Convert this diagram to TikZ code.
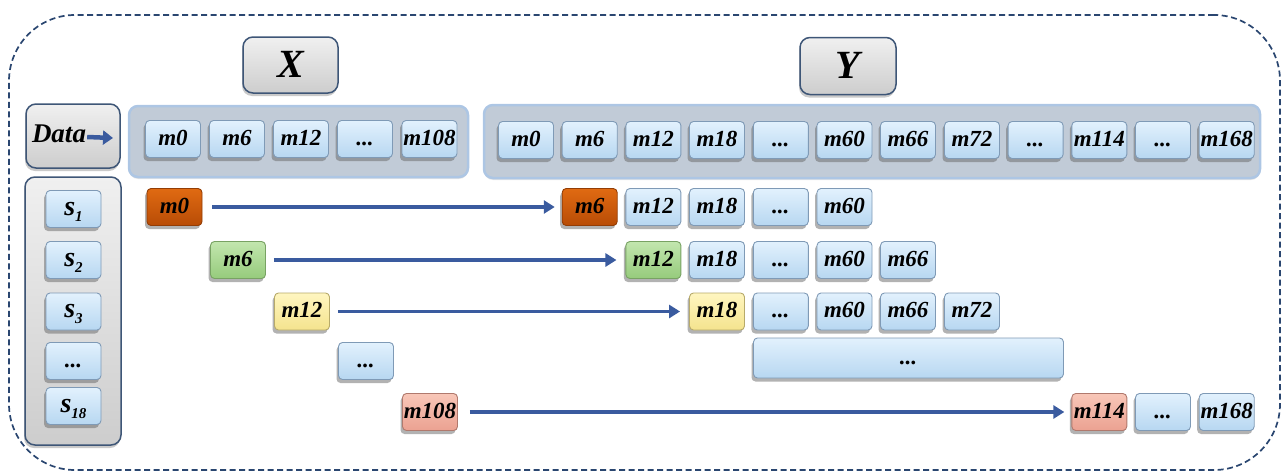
\documentclass[tikz,border=0pt]{standalone}
\usepackage{fontspec}
\newfontfamily\lblfont{Liberation Serif}
\usetikzlibrary{shadows,arrows.meta,shadings}

\definecolor{frameline}{HTML}{2A4670}
\definecolor{boxline}{HTML}{3E5677}
\definecolor{boxtop}{HTML}{F0F0F0}
\definecolor{boxbot}{HTML}{CDCDCD}
\definecolor{contline}{HTML}{ADC6E4}
\definecolor{contfill}{HTML}{C1CBD7}
\definecolor{cellline}{HTML}{7F9AB6}
\definecolor{celltop}{HTML}{E2F1FD}
\definecolor{cellbot}{HTML}{B7D7F1}
\definecolor{orgtop}{HTML}{E06A12}
\definecolor{orgbot}{HTML}{B84C06}
\definecolor{grntop}{HTML}{C2E6AE}
\definecolor{grnbot}{HTML}{96CB7C}
\definecolor{ylwtop}{HTML}{FFF6C0}
\definecolor{ylwbot}{HTML}{F4E38E}
\definecolor{pnktop}{HTML}{F8C6B8}
\definecolor{pnkbot}{HTML}{EBA291}
\definecolor{flowblue}{HTML}{3A5B9F}

\newcommand\cellfont{\fontsize{23}{23}\selectfont\lblfont\bfseries\itshape}
\newcommand\ssub[1]{\raisebox{-6pt}{\fontsize{15}{15}\selectfont #1}}

\tikzset{
  frame/.style={draw=frameline, line width=1.7pt, dash pattern=on 6pt off 3.5pt,
    rounded corners=66pt, minimum width=1271pt, minimum height=455pt, inner sep=0pt},
  graybox/.style={draw=boxline, line width=1.5pt, rounded corners=10pt,
    top color=boxtop, bottom color=boxbot, inner sep=0pt,
    drop shadow={shadow xshift=-1pt, shadow yshift=-3pt, opacity=0.35, fill=black!60}},
  container/.style={draw=contline, line width=2.5pt, fill=contfill, rounded corners=9pt,
    inner sep=0pt,
    drop shadow={shadow xshift=0pt, shadow yshift=-2pt, opacity=0.2, fill=black!50}},
  cell/.style={draw=cellline, line width=0.9pt, rounded corners=4pt,
    top color=celltop, bottom color=cellbot,
    minimum width=55pt, minimum height=37pt, inner sep=0pt,
    text height=15pt, text depth=3pt, font=\cellfont,
    drop shadow={shadow xshift=-2pt, shadow yshift=-3.5pt, opacity=0.5, fill=black!60}},
  orangecell/.style={cell, top color=orgtop, bottom color=orgbot, draw=orgbot!80!black},
  greencell/.style={cell, top color=grntop, bottom color=grnbot, draw=grnbot!80!black},
  yellowcell/.style={cell, top color=ylwtop, bottom color=ylwbot, draw=ylwbot!75!black},
  pinkcell/.style={cell, top color=pnktop, bottom color=pnkbot, draw=pnkbot!75!black},
  flow/.style={draw=flowblue, line width=3.8pt, -{Triangle[length=11pt,width=13pt]}},
  title/.style={font=\fontsize{40}{40}\selectfont\lblfont\bfseries\itshape},
  stext/.style={font=\fontsize{28}{28}\selectfont\lblfont\bfseries\itshape}
}

\begin{document}
\begin{tikzpicture}[x=1pt,y=-1pt]
\useasboundingbox (0,0) rectangle (1282,474);

% outer dashed frame
\node[frame] (frame) at (644.5,242.5) {};

% titles
\node[graybox, minimum width=95pt, minimum height=56pt] (xbox) at (290.5,65) {};
\node[title] (xlbl) at (290.5,64) {X};
\node[graybox, minimum width=96pt, minimum height=57pt] (ybox) at (848,66) {};
\node[title] (ylbl) at (848,65) {Y};

% data label with its arrow
\node[graybox, minimum width=94pt, minimum height=64pt] (data) at (73,136) {};
\node[font=\fontsize{27}{27}\selectfont\lblfont\bfseries\itshape, inner sep=0pt] (datalbl) at (59,134) {Data};
\coordinate (datatip) at (113,138);
\draw[draw=flowblue, line width=4.5pt, -{Triangle[length=10pt,width=14pt]}]
  ([xshift=1pt,yshift=-3pt]datalbl.east) -- (datatip);

% containers
\node[container, minimum width=339pt, minimum height=71pt] (xcont) at (298.5,141.5) {};
\node[container, minimum width=776pt, minimum height=73pt] (ycont) at (872,141.5) {};
\node[graybox, minimum width=96pt, minimum height=268pt] (scont) at (73,311) {};

% X sequence
\node[cell] (x0) at (173,139) {m0};
\node[cell] (x1) at (237,139) {m6};
\node[cell] (x2) at (301,139) {m12};
\node[cell] (x3) at (365,139) {...};
\node[cell] (x4) at (429.5,139) {m108};

% Y sequence
\node[cell] (y0)  at (526,140)    {m0};
\node[cell] (y1)  at (589.7,140)  {m6};
\node[cell] (y2)  at (653.4,140)  {m12};
\node[cell] (y3)  at (717,140)    {m18};
\node[cell] (y4)  at (780.8,140)  {...};
\node[cell] (y5)  at (844.5,140)  {m60};
\node[cell] (y6)  at (908,140)    {m66};
\node[cell] (y7)  at (972,140)    {m72};
\node[cell] (y8)  at (1035.6,140) {...};
\node[cell] (y9)  at (1099.3,140) {m114};
\node[cell] (y10) at (1163,140)   {...};
\node[cell] (y11) at (1226.7,140) {m168};

% samples
\node[cell, stext] (s1) at (73.5,209) {s\ssub{1}};
\node[cell, stext] (s2) at (73.5,260) {s\ssub{2}};
\node[cell, stext] (s3) at (73.5,311.5) {s\ssub{3}};
\node[cell] (s4) at (73.5,361) {...};
\node[cell, stext] (s18) at (73.5,406) {s\ssub{18}};

% row 1
\node[orangecell] (a0) at (174.5,207) {m0};
\node[orangecell] (a1) at (589.7,207) {m6};
\node[cell] (a2) at (653.4,207) {m12};
\node[cell] (a3) at (717,207)   {m18};
\node[cell] (a4) at (780.8,207) {...};
\node[cell] (a5) at (844.5,207) {m60};
\draw[flow, shorten <=10pt, shorten >=7pt] (a0.east) -- (a1.west);

% row 2
\node[greencell] (b0) at (238,260) {m6};
\node[greencell] (b1) at (653.4,260) {m12};
\node[cell] (b2) at (717,260)   {m18};
\node[cell] (b3) at (780.8,260) {...};
\node[cell] (b4) at (844.5,260) {m60};
\node[cell] (b5) at (908,260)   {m66};
\draw[flow, shorten <=8pt, shorten >=9pt] (b0.east) -- (b1.west);

% row 3
\node[yellowcell] (c0) at (302,311.5) {m12};
\node[yellowcell] (c1) at (717,311.5) {m18};
\node[cell] (c2) at (780.8,311.5) {...};
\node[cell] (c3) at (844.5,311.5) {m60};
\node[cell] (c4) at (908,311.5)   {m66};
\node[cell] (c5) at (972,311.5)   {m72};
\draw[flow, shorten <=8pt, shorten >=9pt] (c0.east) -- (c1.west);

% row 4
\node[cell] (d0) at (366,361) {...};
\node[cell, minimum width=310pt, minimum height=40pt] (d1) at (908.5,358) {...};

% row 5
\node[pinkcell] (e0) at (430,412) {m108};
\node[pinkcell] (e1) at (1099.3,412) {m114};
\node[cell] (e2) at (1163,412)   {...};
\node[cell] (e3) at (1226.7,412) {m168};
\draw[flow, shorten <=12pt, shorten >=7pt] (e0.east) -- (e1.west);
\end{tikzpicture}
\end{document}
